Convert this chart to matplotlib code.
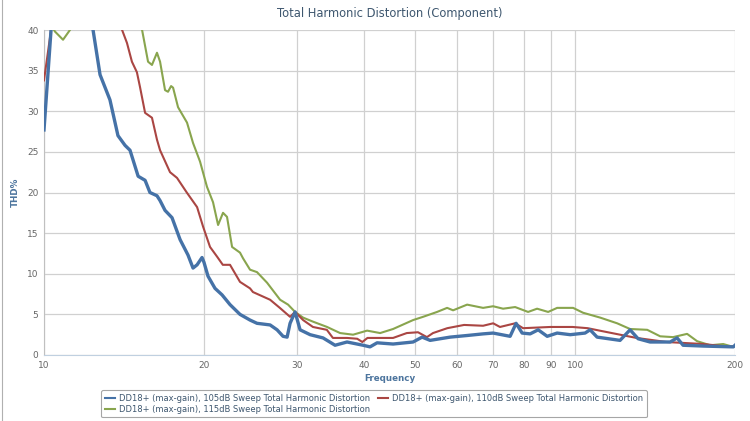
import matplotlib.pyplot as plt
from matplotlib.lines import Line2D

# frequencies (Hz) and THD%
freq_105 = [10.0, 10.31, 10.8, 12.0, 12.37, 12.75, 13.31, 13.78, 14.21, 14.52, 15.04, 15.5, 15.83,
            16.32, 16.54, 16.9, 17.42, 18.04, 18.67, 19.08, 19.42, 19.84, 20.01, 20.36, 20.99,
            21.64, 22.4, 23.39, 24.43, 25.18, 26.65, 27.47, 28.19, 28.69, 29.06, 29.7, 30.35,
            31.7, 33.53, 35.32, 37.2, 39.88, 41.1, 42.38, 45.42, 49.54, 51.51, 53.33, 58.16,
            62.61, 67.1, 70.08, 75.44, 77.43, 79.47, 82.28, 85.2, 88.6, 92.5, 97.9, 104.4,
            106.7, 110.0, 121.5, 126.9, 131.4, 138.4, 151.0, 155.6, 159.7, 174.2, 198.5, 200.0]
thd_105 = [27.7, 40.0, 45.0, 44.0, 40.0, 34.5, 31.4, 27.0, 25.8, 25.2, 22.0, 21.5, 20.0,
           19.6, 19.0, 17.8, 16.9, 14.2, 12.3, 10.7, 11.1, 12.0, 11.4, 9.7, 8.2,
           7.4, 6.2, 5.0, 4.3, 3.9, 3.7, 3.1, 2.3, 2.2, 3.9, 5.3, 3.1,
           2.5, 2.1, 1.2, 1.6, 1.2, 1.0, 1.5, 1.35, 1.6, 2.2, 1.8, 2.2,
           2.4, 2.6, 2.7, 2.3, 3.9, 2.7, 2.6, 3.1, 2.3, 2.7, 2.5, 2.7,
           3.1, 2.2, 1.8, 3.1, 2.0, 1.6, 1.6, 2.1, 1.2, 1.1, 1.0, 1.2]

freq_110 = [10.0, 10.31, 11.0, 13.0, 14.03, 14.33, 14.64, 14.96, 15.16, 15.5, 15.97, 16.32, 16.54,
            17.27, 17.8, 18.57, 19.42, 19.93, 20.54, 21.18, 21.71, 22.4, 23.39, 24.43, 24.74,
            26.65, 27.8, 29.06, 29.7, 30.75, 32.09, 34.08, 34.99, 37.2, 38.88, 39.75, 40.65,
            45.42, 48.2, 50.6, 52.6, 54.0, 57.45, 61.8, 67.1, 70.1, 72.2, 77.1, 79.8, 89.8,
            98.9, 105.6, 111.2, 121.5, 130.5, 148.6, 174.2, 196.0, 200.0]
thd_110 = [33.8, 40.0, 46.0, 45.0, 40.0, 38.4, 36.1, 34.8, 33.0, 29.8, 29.2, 26.5, 25.2,
           22.5, 21.8, 20.0, 18.2, 15.8, 13.3, 12.1, 11.1, 11.1, 9.0, 8.2, 7.75,
           6.8, 5.8, 4.7, 5.3, 4.3, 3.45, 3.1, 2.1, 2.1, 2.0, 1.6, 2.1,
           2.1, 2.7, 2.8, 2.2, 2.7, 3.3, 3.7, 3.6, 3.9, 3.45, 3.9, 3.3, 3.45,
           3.45, 3.3, 3.0, 2.5, 2.1, 1.6, 1.35, 1.0, 1.1]

freq_115 = [10.0, 10.25, 10.49, 10.86, 11.19, 11.5, 12.5, 14.0, 15.3, 15.7, 15.97, 16.32, 16.54,
            16.9, 17.12, 17.35, 17.5, 17.88, 18.59, 19.08, 19.67, 20.27, 20.81, 21.27, 21.73,
            22.11, 22.6, 23.39, 23.7, 24.43, 25.18, 26.3, 27.83, 28.81, 29.7, 30.75, 32.11,
            34.12, 36.1, 38.19, 40.58, 42.94, 45.42, 49.54, 51.73, 54.96, 57.41, 58.92, 62.61,
            67.1, 70.08, 73.18, 77.1, 81.56, 84.8, 88.97, 92.5, 99.13, 103.5, 111.5, 120.0,
            126.9, 136.7, 144.6, 152.9, 162.5, 169.7, 179.6, 190.0, 198.5, 200.0]
thd_115 = [44.0, 40.8, 39.8, 38.8, 40.0, 41.5, 43.0, 44.0, 40.0, 36.1, 35.7, 37.2, 36.1,
           32.6, 32.4, 33.1, 32.9, 30.5, 28.6, 26.1, 23.8, 20.7, 18.8, 16.0, 17.5,
           17.0, 13.3, 12.6, 11.9, 10.5, 10.2, 8.9, 6.8, 6.2, 5.3, 4.6, 4.1,
           3.45, 2.7, 2.5, 3.0, 2.7, 3.2, 4.3, 4.7, 5.3, 5.8, 5.5, 6.2,
           5.8, 6.0, 5.7, 5.9, 5.3, 5.7, 5.3, 5.8, 5.8, 5.2, 4.6, 3.9,
           3.2, 3.1, 2.3, 2.2, 2.6, 1.7, 1.2, 1.35, 1.0, 1.1]

labels = ['DD18+ (max-gain), 105dB Sweep Total Harmonic Distortion',
          'DD18+ (max-gain), 110dB Sweep Total Harmonic Distortion',
          'DD18+ (max-gain), 115dB Sweep Total Harmonic Distortion']
colors = ['#4572A7', '#AA4643', '#89A54E']
x_ticks = [10, 20, 30, 40, 50, 60, 70, 80, 90, 100, 200]
y_ticks = [0, 5, 10, 15, 20, 25, 30, 35, 40]


def main():
    fig = plt.figure(figsize=(7.5, 4.21), dpi=100)
    ax = fig.add_axes([44 / 750, 66 / 421, 691 / 750, 325 / 421])

    ax.plot(freq_105, thd_105, color=colors[0], lw=2.4, zorder=4)
    ax.plot(freq_110, thd_110, color=colors[1], lw=1.5, zorder=3)
    ax.plot(freq_115, thd_115, color=colors[2], lw=1.5, zorder=2)

    ax.set_xscale('log')
    ax.set_xlim(10, 200)
    ax.set_ylim(0, 40)
    ax.set_xticks(x_ticks)
    ax.set_xticklabels([str(t) for t in x_ticks])
    ax.minorticks_off()
    ax.set_yticks(y_ticks)
    ax.tick_params(length=0, labelsize=6.5, colors='#666666', pad=4)
    ax.grid(True, color='#D0D0D0', lw=0.9)
    ax.set_axisbelow(True)
    for side in ['top', 'right']:
        ax.spines[side].set_visible(False)
    ax.spines['left'].set_color('#C0C0C0')
    ax.spines['bottom'].set_color('#C0D0E0')

    ax.set_title('Total Harmonic Distortion (Component)', fontsize=8.3, color='#3E576F', pad=9)
    ax.set_ylabel('THD%', fontsize=6.3, fontweight='bold', color='#4D759E', labelpad=5)
    ax.set_xlabel('Frequency', fontsize=6.3, fontweight='bold', color='#4D759E', labelpad=3)

    # outer chart border on the left edge
    fig.add_artist(Line2D([2 / 750, 2 / 750], [0, 1], color='#B0B0B0', lw=0.8))

    handles = [Line2D([], [], color=c, lw=1.5) for c in colors]
    order = [0, 2, 1]
    leg = fig.legend([handles[i] for i in order], [labels[i] for i in order],
                     ncol=2, loc='upper left', bbox_to_anchor=(97 / 750, 1 - 386 / 421),
                     fontsize=6.05, frameon=True, handlelength=1.2, handletextpad=0.5,
                     columnspacing=0.9, borderpad=0.45, labelspacing=0.2)
    leg.get_frame().set_edgecolor('#909090')
    leg.get_frame().set_linewidth(0.8)
    for t in leg.get_texts():
        t.set_color('#3E576F')

    fig.savefig('out.png', dpi=100)


if __name__ == '__main__':
    main()
